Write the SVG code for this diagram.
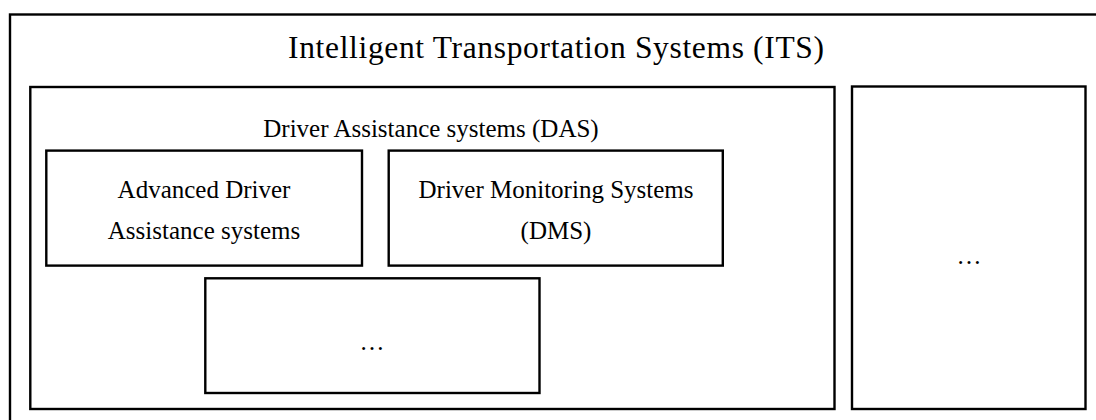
<svg xmlns="http://www.w3.org/2000/svg" width="1096" height="420" viewBox="0 0 1096 420">
  <style>
    .box { fill: #ffffff; stroke: #000000; stroke-width: 2.4; }
    .t { font-family: "Liberation Serif", "Times New Roman", serif; fill: #000000; text-anchor: middle; }
    .title { font-size: 31.5px; }
    .lbl { font-size: 25px; }
  </style>
  <rect width="1096" height="420" fill="#ffffff"/>
  <g id="its">
    <rect class="box" x="10" y="14.5" width="1100" height="420"/>
    <text class="t title" x="556" y="58" textLength="536" lengthAdjust="spacing">Intelligent Transportation Systems (ITS)</text>
  </g>
  <g id="das">
    <rect class="box" x="30.3" y="87" width="804.2" height="322"/>
    <text class="t lbl" x="431" y="137">Driver Assistance systems (DAS)</text>
  </g>
  <g id="adas">
    <rect class="box" x="46.3" y="150.6" width="315.7" height="115"/>
    <text class="t lbl" x="204" y="198">Advanced Driver</text>
    <text class="t lbl" x="204" y="239">Assistance systems</text>
  </g>
  <g id="dms">
    <rect class="box" x="388.7" y="150.6" width="334.1" height="115"/>
    <text class="t lbl" x="556" y="198">Driver Monitoring Systems</text>
    <text class="t lbl" x="556" y="239">(DMS)</text>
  </g>
  <g id="das-other">
    <rect class="box" x="205.3" y="278.3" width="334.2" height="114.7"/>
    <text class="t lbl" x="372" y="350">…</text>
  </g>
  <g id="its-other">
    <rect class="box" x="852" y="86.5" width="233.5" height="322.5"/>
    <text class="t lbl" x="969" y="264">…</text>
  </g>
  <g id="connectors"/>
</svg>
